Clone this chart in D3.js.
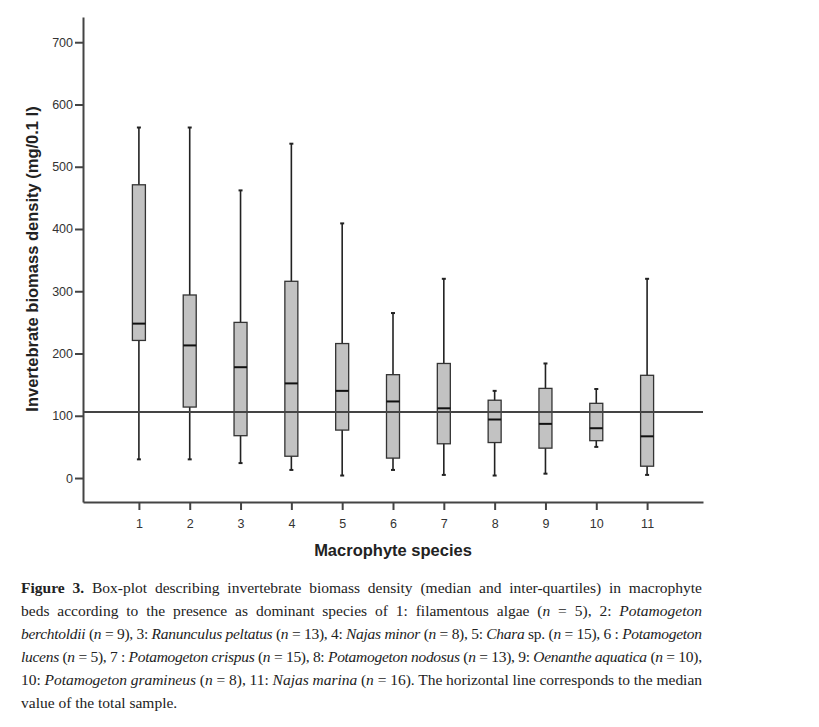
<!DOCTYPE html>
<html>
<head>
<meta charset="utf-8">
<script src="https://cdn.jsdelivr.net/npm/d3@7"></script>
<style>
body { margin: 0; background: #fff; }
svg { display: block; }
.axis text { font-family: "Liberation Sans", Arial, sans-serif; font-size: 12.5px; fill: #333; }
.axis path, .axis line { stroke: #444; }
</style>
</head>
<body>
<div id="chart-area"></div>
<script>
// box-plot values
var species = ["1", "2", "3", "4", "5", "6", "7", "8", "9", "10", "11"];
var whiskerLow = [30, 30, 24, 13, 4, 13, 5, 4, 7, 50, 5];
var q1Values = [221, 114, 68, 35, 77, 32, 55, 57, 48, 60, 19];
var medians = [248, 213, 178, 152, 140, 123, 112, 94, 87, 80, 67];
var q3Values = [471, 294, 250, 316, 216, 166, 184, 125, 144, 120, 165];
var whiskerHigh = [563, 563, 462, 537, 409, 265, 320, 140, 184, 143, 320];
var totalMedian = 106;
var yTicks = [0, 100, 200, 300, 400, 500, 600, 700];

var captionLines = [
	[["b", "Figure 3."], ["r", " Box-plot describing invertebrate biomass density (median and inter-quartiles) in macrophyte"]],
	[["r", "beds according to the presence as dominant species of 1: filamentous algae ("], ["i", "n"], ["r", " = 5), 2: "], ["i", "Potamogeton"]],
	[["i", "berchtoldii"], ["r", " ("], ["i", "n"], ["r", " = 9), 3: "], ["i", "Ranunculus peltatus"], ["r", " ("], ["i", "n"], ["r", " = 13), 4: "], ["i", "Najas minor"], ["r", " ("], ["i", "n"], ["r", " = 8), 5: "], ["i", "Chara"], ["r", " sp. ("], ["i", "n"], ["r", " = 15), 6 : "], ["i", "Potamogeton"]],
	[["i", "lucens"], ["r", " ("], ["i", "n"], ["r", " = 5), 7 : "], ["i", "Potamogeton crispus"], ["r", " ("], ["i", "n"], ["r", " = 15), 8: "], ["i", "Potamogeton nodosus"], ["r", " ("], ["i", "n"], ["r", " = 13), 9: "], ["i", "Oenanthe aquatica"], ["r", " ("], ["i", "n"], ["r", " = 10),"]],
	[["r", "10: "], ["i", "Potamogeton gramineus"], ["r", " ("], ["i", "n"], ["r", " = 8), 11: "], ["i", "Najas marina"], ["r", " ("], ["i", "n"], ["r", " = 16). The horizontal line corresponds to the median"]],
	[["r", "value of the total sample."]]
];

var svg = d3.select("#chart-area").append("svg").attr("width", 819).attr("height", 727);

var x = d3.scalePoint().domain(species).range([83, 703]).padding(1.1);
var y = d3.scaleLinear().domain([-38.5, 740.5]).range([502, 17]);

var boxes = species.map((s, i) => {
	return {s: s, lo: whiskerLow[i], q1: q1Values[i], med: medians[i], q3: q3Values[i], hi: whiskerHigh[i]};
});

// axes
var yAxis = d3.axisLeft(y).tickValues(yTicks).tickSize(8).tickSizeOuter(0).tickPadding(2);
svg.append("g").attr("class", "axis").attr("transform", "translate(83,0)").call(yAxis)
	.call((g) => g.selectAll("path, line").attr("stroke-width", 2));

var xAxis = d3.axisBottom(x).tickSize(8).tickSizeOuter(0).tickPadding(9);
svg.append("g").attr("class", "axis").attr("transform", "translate(0,502)").call(xAxis)
	.call((g) => g.selectAll("path, line").attr("stroke-width", 2));

var boxWidth = 13;
var g = svg.append("g");

// whiskers
g.selectAll(".whisker").data(boxes).enter().append("line")
	.attr("x1", (d) => x(d.s)).attr("x2", (d) => x(d.s))
	.attr("y1", (d) => y(d.hi)).attr("y2", (d) => y(d.lo))
	.attr("stroke", "#222").attr("stroke-width", 1.6);

g.selectAll(".capHi").data(boxes).enter().append("line")
	.attr("x1", (d) => x(d.s) - 2).attr("x2", (d) => x(d.s) + 2)
	.attr("y1", (d) => y(d.hi)).attr("y2", (d) => y(d.hi))
	.attr("stroke", "#222").attr("stroke-width", 2);

g.selectAll(".capLo").data(boxes).enter().append("line")
	.attr("x1", (d) => x(d.s) - 2).attr("x2", (d) => x(d.s) + 2)
	.attr("y1", (d) => y(d.lo)).attr("y2", (d) => y(d.lo))
	.attr("stroke", "#222").attr("stroke-width", 2);

g.selectAll("rect").data(boxes).enter().append("rect")
	.attr("x", (d) => x(d.s) - boxWidth / 2).attr("width", boxWidth)
	.attr("y", (d) => y(d.q3)).attr("height", (d) => y(d.q1) - y(d.q3))
	.attr("fill", "#c2c2c2").attr("stroke", "#333").attr("stroke-width", 1.3);

g.selectAll(".median").data(boxes).enter().append("line")
	.attr("x1", (d) => x(d.s) - boxWidth / 2).attr("x2", (d) => x(d.s) + boxWidth / 2)
	.attr("y1", (d) => y(d.med)).attr("y2", (d) => y(d.med))
	.attr("stroke", "#111").attr("stroke-width", 2);

// reference line: median of total sample
svg.append("line").attr("x1", 83).attr("x2", 703)
	.attr("y1", y(totalMedian)).attr("y2", y(totalMedian))
	.attr("stroke", "#444").attr("stroke-width", 2);

// axis titles
svg.append("text").attr("transform", "translate(38,259) rotate(-90)")
	.attr("text-anchor", "middle").attr("font-family", "Liberation Sans, Arial, sans-serif")
	.attr("font-size", "16.5px").attr("font-weight", "bold").attr("fill", "#222")
	.text("Invertebrate biomass density (mg/0.1 l)");

svg.append("text").attr("x", 393).attr("y", 556)
	.attr("text-anchor", "middle").attr("font-family", "Liberation Sans, Arial, sans-serif")
	.attr("font-size", "16.5px").attr("font-weight", "bold").attr("fill", "#222")
	.text("Macrophyte species");

// caption, justified between x=21 and x=702 except the last line
var capLeft = 21, capRight = 702;
captionLines.forEach((line, i) => {
	var t = svg.append("text").attr("x", capLeft).attr("y", 592.5 + i * 23.1)
		.attr("font-family", "Liberation Serif, Times New Roman, serif")
		.attr("font-size", "15.5px").attr("fill", "#222")
		.attr("xml:space", "preserve");
	line.forEach((seg) => {
		t.append("tspan").text(seg[1])
			.attr("font-weight", seg[0] == "b" ? "bold" : "normal")
			.attr("font-style", seg[0] == "i" ? "italic" : "normal");
	});
	if (i < captionLines.length - 1) {
		var w = t.node().getComputedTextLength();
		var spaces = line.map((seg) => seg[1]).join("").split(" ").length - 1;
		var extra = capRight - capLeft - w;
		if (extra >= 0) {
			t.style("word-spacing", (extra / spaces) + "px");
		} else {
			t.attr("textLength", capRight - capLeft).attr("lengthAdjust", "spacing");
		}
	}
});
</script>
</body>
</html>
